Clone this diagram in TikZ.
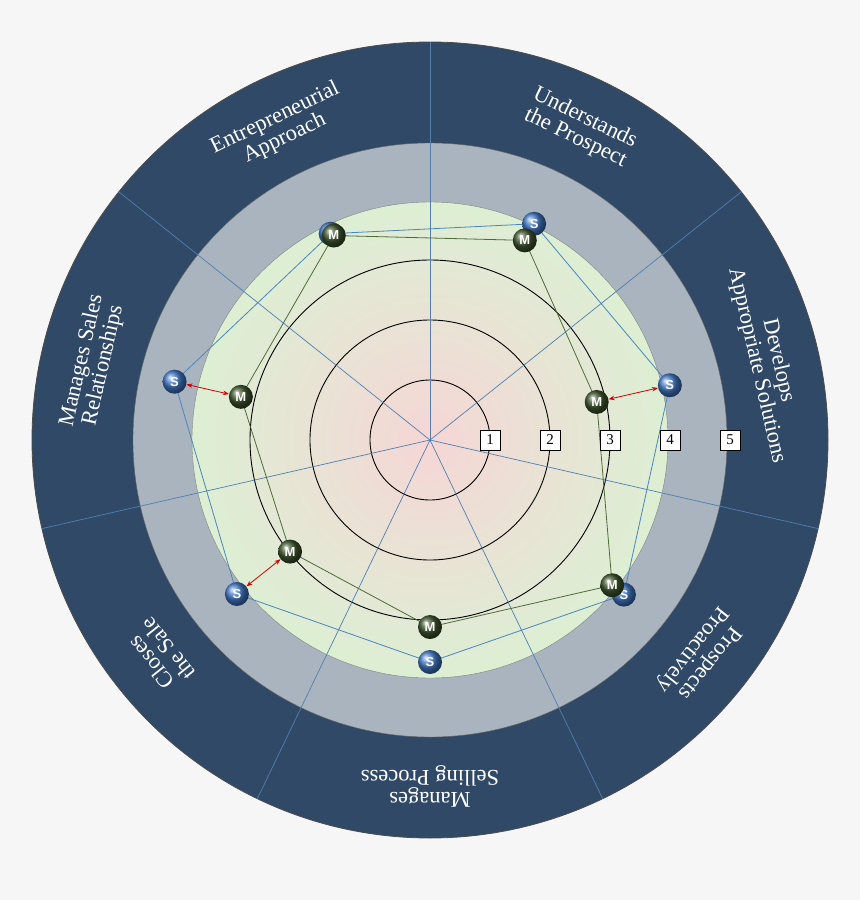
\documentclass[tikz,border=0pt]{standalone}
\usepackage{fontspec}
\setmainfont{Liberation Serif}
\setsansfont{Liberation Sans}
\usetikzlibrary{arrows.meta}
\definecolor{bg}{HTML}{F6F6F6}
\definecolor{navy}{HTML}{304966}
\definecolor{ringgray}{HTML}{A9B4BF}
\definecolor{greenf}{HTML}{DCEFD3}
\definecolor{pinkc}{HTML}{F6D6D6}
\definecolor{spoke}{HTML}{4F7FB3}
\definecolor{sline}{HTML}{4A86C0}
\definecolor{mline}{HTML}{4E6B3A}
\tikzset{
  sball/.style={circle,minimum size=24pt,inner sep=0pt,ball color=sline!90!blue,text=white,font=\sffamily\bfseries\fontsize{13}{13}\selectfont},
  mball/.style={circle,minimum size=24pt,inner sep=0pt,ball color=mline!80!black,text=white,font=\sffamily\bfseries\fontsize{13}{13}\selectfont},
  seclabel/.style={text=white,align=center,font=\fontsize{22.5}{22}\selectfont},
  numbox/.style={draw=black,fill=white,minimum size=20pt,inner sep=0pt,font=\fontsize{15}{15}\selectfont},
  gap/.style={red!85!black,thick,{Stealth[length=6pt]}-{Stealth[length=6pt]}}
}
\begin{document}
\begin{tikzpicture}[x=1pt,y=1pt]
\fill[bg] (0,0) rectangle (860,-900);
\useasboundingbox (0,0) rectangle (860,-900);
\begin{scope}[shift={(430,-440)}]
\coordinate (c) at (0,0);
\fill[navy] (c) circle (398pt);
\draw[black!70,thick] (c) circle (398pt);
\fill[ringgray] (c) circle (297pt);
\draw[black!60] (c) circle (297pt);
\shade[inner color=pinkc,outer color=greenf] (c) circle (238pt);
\draw[black!50] (c) circle (238pt);
\foreach \r in {60,120,180} \draw[black,line width=0.9pt] (c) circle (\r pt);
\foreach \a in {90,38.57,-12.86,-64.29,-115.71,-167.14,141.43}
  \draw[spoke,line width=0.7pt] (c) -- (\a:398pt);
% labels
\node[seclabel,rotate=25.71] (l1) at (115.71:346pt) {Entrepreneurial\\Approach};
\node[seclabel,rotate=-25.71] (l2) at (64.29:346pt) {Understands\\the Prospect};
\node[seclabel,rotate=-77.14] (l3) at (12.86:346pt) {Develops\\Appropriate Solutions};
\node[seclabel,rotate=-128.57] (l4) at (-38.57:346pt) {Prospects\\Proactively};
\node[seclabel,rotate=-180] (l5) at (-90:346pt) {Manages\\Selling Process};
\node[seclabel,rotate=-231.43] (l6) at (-141.43:346pt) {Closes\\the Sale};
\node[seclabel,rotate=77.14] (l7) at (167.14:346pt) {Manages Sales\\Relationships};
% points
\coordinate (sp1) at (115.71:229pt); \coordinate (mp1) at (115.2:226pt);
\coordinate (sp2) at (64.29:240pt);  \coordinate (mp2) at (64.6:221pt);
\coordinate (sp3) at (12.86:246pt);  \coordinate (mp3) at (12.86:171pt);
\coordinate (sp4) at (-38.57:248pt); \coordinate (mp4) at (-38.57:233pt);
\coordinate (sp5) at (-90:222pt);    \coordinate (mp5) at (-90:187pt);
\coordinate (sp6) at (-141.43:247pt);\coordinate (mp6) at (-141.43:179pt);
\coordinate (sp7) at (167.14:262pt); \coordinate (mp7) at (167.14:194pt);
\draw[sline,thick] (sp1)--(sp2)--(sp3)--(sp4)--(sp5)--(sp6)--(sp7)--cycle;
\draw[mline,thick] (mp1)--(mp2)--(mp3)--(mp4)--(mp5)--(mp6)--(mp7)--cycle;
\foreach \i in {1,...,7} \node[sball] (s\i) at (sp\i) {S};
\foreach \i in {1,...,7} \node[mball] (m\i) at (mp\i) {M};
\draw[gap] (m3) -- (s3);
\draw[gap] (m6) -- (s6);
\draw[gap] (m7) -- (s7);
\foreach \n in {1,...,5} \node[numbox] (n\n) at (\n*60+0,0) {\n};
\end{scope}
\end{tikzpicture}
\end{document}
